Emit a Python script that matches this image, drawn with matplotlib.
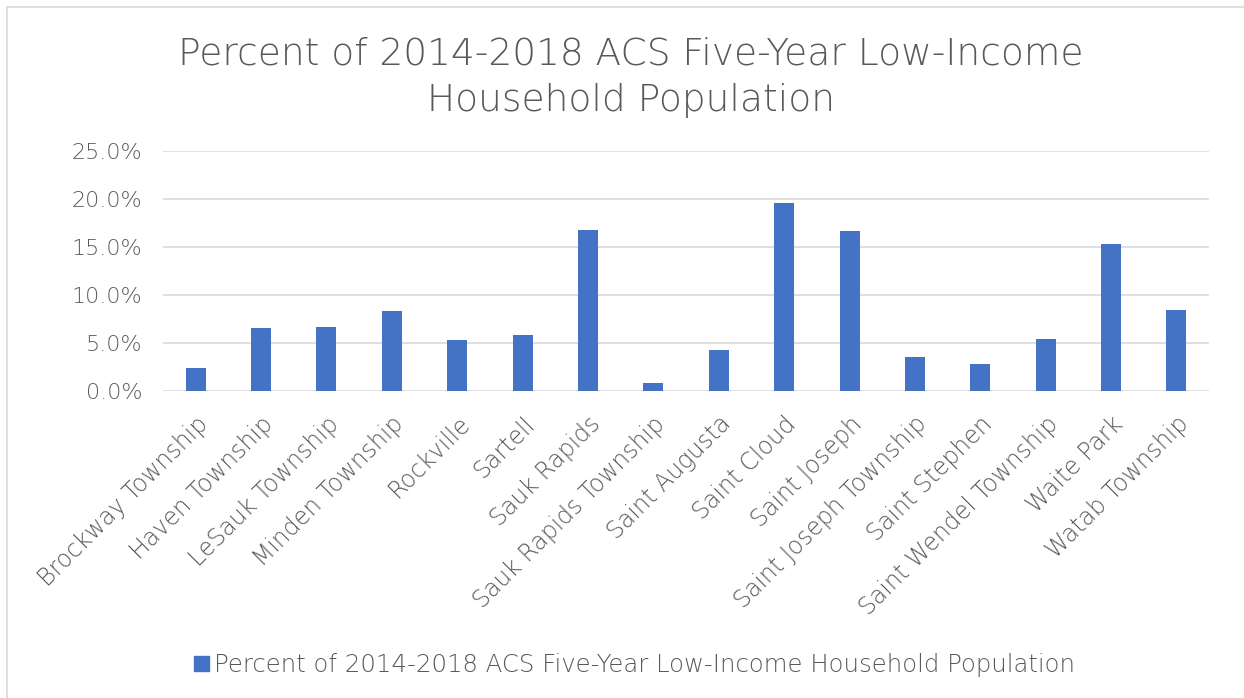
import matplotlib.pyplot as plt
import matplotlib.patches as mpatches
import matplotlib.lines as mlines
from matplotlib.ticker import FuncFormatter

places = ["Brockway Township", "Haven Township", "LeSauk Township", "Minden Township",
          "Rockville", "Sartell", "Sauk Rapids", "Sauk Rapids Township",
          "Saint Augusta", "Saint Cloud", "Saint Joseph", "Saint Joseph Township",
          "Saint Stephen", "Saint Wendel Township", "Waite Park", "Watab Township"]
pct_low_income = [2.4, 6.5, 6.7, 8.3, 5.3, 5.8, 16.8, 0.8,
                  4.3, 19.6, 16.6, 3.5, 2.8, 5.4, 15.3, 8.4]

series_name = "Percent of 2014-2018 ACS Five-Year Low-Income Household Population"
bar_color = "#4472C4"
text_color = "#595959"

plt.rcParams["font.family"] = ["DejaVu Sans"]

fig = plt.figure(figsize=(12.44, 6.98), dpi=100)
ax = fig.add_axes([0.131, 0.440, 0.841, 0.344])

x = range(len(places))
ax.bar(x, pct_low_income, width=0.306, color=bar_color, zorder=3)

ax.set_xlim(-0.5, len(places) - 0.5)
ax.set_ylim(0, 25)
ax.set_yticks([0, 5, 10, 15, 20, 25])
ax.yaxis.set_major_formatter(FuncFormatter(lambda v, p: f"{v:.1f}%"))
ax.grid(axis="y", color="#d9d9d9", linewidth=1.2, zorder=0)
ax.set_xticks(list(x))
ax.set_xticklabels(places, rotation=45, ha="right", rotation_mode="anchor",
                   fontsize=17, color=text_color, fontweight="light")
for lbl in ax.get_yticklabels():
    lbl.set_fontweight("light")
ax.tick_params(axis="y", labelsize=16, labelcolor=text_color, length=0, pad=15)
ax.tick_params(axis="x", length=0, pad=15)
for s in ax.spines.values():
    s.set_visible(False)

fig.suptitle("Percent of 2014-2018 ACS Five-Year Low-Income\nHousehold Population",
             x=0.507, y=0.947, fontsize=27, color=text_color, linespacing=1.4,
             fontweight="light")

fig.legend(handles=[mpatches.Patch(color=bar_color)], labels=[series_name],
           loc="center", bbox_to_anchor=(0.51, 0.047), frameon=False,
           prop={"size": 17.6, "weight": "light"}, labelcolor=text_color,
           handlelength=0.6, handleheight=0.6, handletextpad=0.2)

# chart area border (only left and top edges fall inside the picture)
fig.add_artist(mlines.Line2D([7 / 1244, 7 / 1244, 1.0], [0.0, 1 - 7 / 698, 1 - 7 / 698],
                             transform=fig.transFigure, color="#d9d9d9", linewidth=1.2))

fig.savefig("out.png", dpi=100)
